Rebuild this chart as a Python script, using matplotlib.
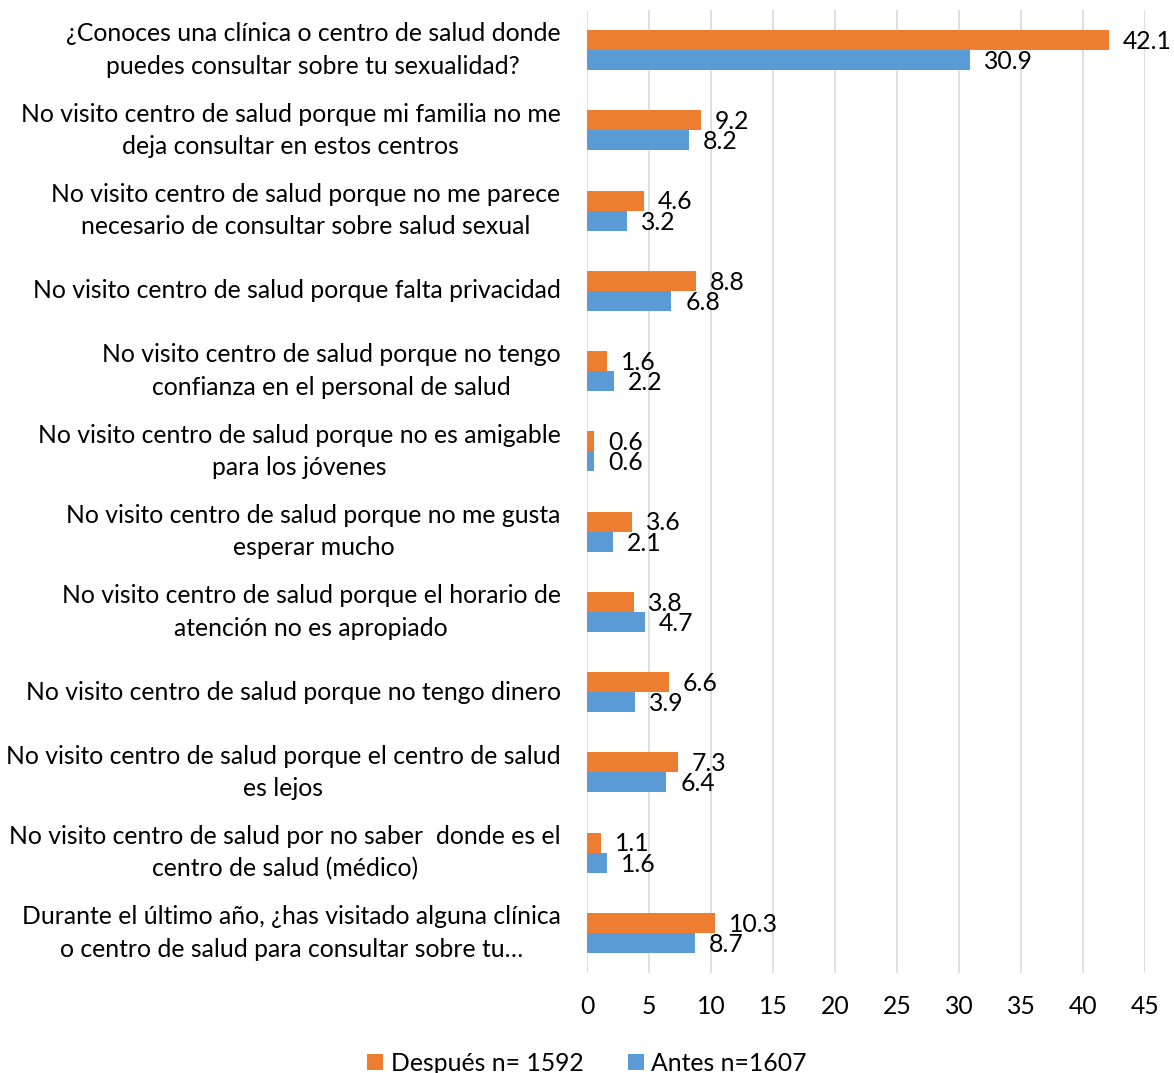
import matplotlib.pyplot as plt
import numpy as np

categorias = [
    "¿Conoces una clínica o centro de salud donde\npuedes consultar sobre tu sexualidad?",
    "No visito centro de salud porque mi familia no me\ndeja consultar en estos centros",
    "No visito centro de salud porque no me parece\nnecesario de consultar sobre salud sexual",
    "No visito centro de salud porque falta privacidad",
    "No visito centro de salud porque no tengo\nconfianza en el personal de salud",
    "No visito centro de salud porque no es amigable\npara los jóvenes",
    "No visito centro de salud porque no me gusta\nesperar mucho",
    "No visito centro de salud porque el horario de\natención no es apropiado",
    "No visito centro de salud porque no tengo dinero",
    "No visito centro de salud porque el centro de salud\nes lejos",
    "No visito centro de salud por no saber  donde es el\ncentro de salud (médico)",
    "Durante el último año, ¿has visitado alguna clínica\no centro de salud para consultar sobre tu…",
]
despues = [42.1, 9.2, 4.6, 8.8, 1.6, 0.6, 3.6, 3.8, 6.6, 7.3, 1.1, 10.3]
antes = [30.9, 8.2, 3.2, 6.8, 2.2, 0.6, 2.1, 4.7, 3.9, 6.4, 1.6, 8.7]
nombre_despues = "Después n= 1592"
nombre_antes = "Antes n=1607"
ticks_x = [0, 5, 10, 15, 20, 25, 30, 35, 40, 45]

naranja = "#ED7D31"
azul = "#5B9BD5"
fuente = "Lato"
tam = 17.8

fig = plt.figure(figsize=(11.74, 10.73), dpi=100)
ax = fig.add_axes([0.5, 0.0932, 0.4753, 0.8975])

y = np.arange(len(categorias))
h = 0.25
b1 = ax.barh(y - h / 2, despues, height=h, color=naranja, label=nombre_despues, zorder=3)
b2 = ax.barh(y + h / 2, antes, height=h, color=azul, label=nombre_antes, zorder=3)

for bars, vals in ((b1, despues), (b2, antes)):
    for bar, v in zip(bars, vals):
        ax.annotate(f"{v:.1f}", (v, bar.get_y() + bar.get_height() / 2),
                    xytext=(10, -1), textcoords="offset points",
                    va="center", ha="left", fontsize=tam, family=fuente, color="#000000",
                    annotation_clip=False)

ax.set_xlim(0, 45)
ax.set_ylim(len(categorias) - 0.5, -0.5)
ax.set_xticks(ticks_x)
ax.set_xticklabels([str(t) for t in ticks_x], fontsize=tam, family=fuente)
ax.set_yticks(y)
ax.set_yticklabels(categorias, fontsize=tam, family=fuente)
for lab in ax.get_yticklabels():
    lab.set_multialignment("center")
    lab.set_verticalalignment("center")
    lab.set_linespacing(1.5)
ax.tick_params(axis="both", length=0)
ax.tick_params(axis="y", pad=19)
ax.tick_params(axis="x", pad=16)
ax.grid(axis="x", color="#D9D9D9", linewidth=1.2, zorder=0)
for s in ax.spines.values():
    s.set_visible(False)

leg = fig.legend(handles=[b1, b2], loc="center", bbox_to_anchor=(0.5, 0.009),
                 ncol=2, frameon=False, prop={"family": fuente, "size": tam},
                 handlelength=0.65, handleheight=0.65, handletextpad=0.3, columnspacing=1.8)

fig.savefig("out.png", dpi=100)
